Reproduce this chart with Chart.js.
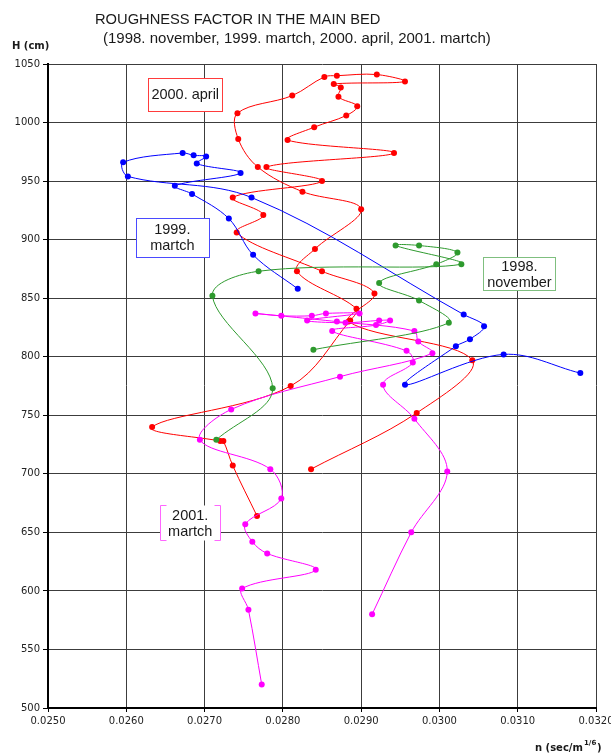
<!DOCTYPE html>
<html>
<head>
<meta charset="utf-8">
<script src="https://cdn.jsdelivr.net/npm/chart.js@4.4.1/dist/chart.umd.min.js"></script>
<style>
  html, body { margin: 0; padding: 0; background: #ffffff; }
  #wrap { width: 611px; height: 754px; }
</style>
</head>
<body>
<div id="wrap"><canvas id="chart" width="611" height="754"></canvas></div>
<script>
// Axis ticks
const xTicks = [0.0250, 0.0260, 0.0270, 0.0280, 0.0290, 0.0300, 0.0310, 0.0320];
const yTicks = [500, 550, 600, 650, 700, 750, 800, 850, 900, 950, 1000, 1050];

// Series labels
const seriesNames = ['1998. november', '1999. martch', '2000. april', '2001. martch'];

// 1998. november  (roughness n, water level H)
const nov98N = [0.02715, 0.02787, 0.02710, 0.02769, 0.03028, 0.02944, 0.02974, 0.03023, 0.02996, 0.02923, 0.02974, 0.03012, 0.02839];
const nov98H = [729, 773, 852, 873, 879, 895, 895, 889, 879, 863, 848, 829, 806];

// 1999. martch
const mar99N = [0.02819, 0.02762, 0.02731, 0.02684, 0.02662, 0.02746, 0.02690, 0.02702, 0.02686, 0.02672, 0.02596, 0.02602, 0.02760, 0.03031, 0.03057, 0.03039, 0.03021, 0.02956, 0.03082, 0.03180];
const mar99H = [858, 887, 918, 939, 946, 957, 965, 971, 972, 974, 966, 954, 936, 836, 826, 815, 809, 776, 802, 786];

// 2000. april
const apr00N = [0.02767, 0.02736, 0.02724, 0.02720, 0.02633, 0.02810, 0.02886, 0.02894, 0.02818, 0.02841, 0.02900, 0.02825, 0.02768, 0.02743, 0.02742, 0.02812, 0.02853, 0.02869, 0.02920, 0.02956, 0.02865, 0.02874, 0.02871, 0.02895, 0.02881, 0.02840, 0.02806, 0.02942, 0.02779, 0.02850, 0.02736, 0.02775, 0.02741, 0.02850, 0.02917, 0.02884, 0.03042, 0.02971, 0.02836];
const apr00H = [664, 707, 728, 728, 740, 775, 831, 841, 873, 892, 926, 941, 962, 986, 1008, 1023, 1039, 1040, 1041, 1035, 1033, 1030, 1022, 1014, 1006, 996, 985, 974, 962, 950, 936, 921, 906, 873, 854, 830, 797, 752, 704];

// 2001. martch
const mar01N = [0.02773, 0.02756, 0.02748, 0.02842, 0.02780, 0.02761, 0.02752, 0.02798, 0.02784, 0.02694, 0.02734, 0.02873, 0.02991, 0.02973, 0.02968, 0.02869, 0.02765, 0.02798, 0.02837, 0.02855, 0.02898, 0.02831, 0.02880, 0.02923, 0.02937, 0.02919, 0.02863, 0.02958, 0.02966, 0.02928, 0.02968, 0.03010, 0.02964, 0.02914];
const mar01H = [520, 584, 602, 618, 632, 642, 657, 679, 704, 729, 755, 783, 803, 813, 822, 830, 837, 835, 835, 837, 837, 831, 829, 831, 831, 827, 822, 805, 795, 776, 747, 702, 650, 580];

function pairUp(ns, hs) {
  return ns.map((n, i) => ({ x: n, y: hs[i] }));
}

function lineSet(label, ns, hs, color) {
  return {
    label: label,
    data: pairUp(ns, hs),
    showLine: true,
    borderColor: color,
    backgroundColor: color,
    borderWidth: 1,
    pointRadius: 3,
    pointHoverRadius: 3,
    pointBorderWidth: 0,
    tension: 0.35
  };
}

const FONT = '"Liberation Sans", Arial, sans-serif';
const AXFONT = '"DejaVu Sans", Verdana, sans-serif';

// Boxed series names placed in data units
const boxes = [
  { lines: ['2000. april'], n: 0.026753, h: 1024, w: 74, hgt: 33, color: '#ff3b3b', style: 'box' },
  { lines: ['1999.', 'martch'], n: 0.026588, h: 902, w: 73, hgt: 39, color: '#4a4aff', style: 'box' },
  { lines: ['1998.', 'november'], n: 0.031022, h: 871, w: 72, hgt: 33, color: '#7fbf7f', style: 'box' },
  { lines: ['2001.', 'martch'], n: 0.026817, h: 658, w: 60, hgt: 35, color: '#ff66ff', style: 'bracket' }
];

const decorations = {
  id: 'decorations',
  afterDraw(chart) {
    const ctx = chart.ctx;
    const xs = chart.scales.x, ys = chart.scales.y;
    ctx.save();
    // heading
    ctx.fillStyle = '#1a1a1a';
    ctx.textAlign = 'left';
    ctx.textBaseline = 'alphabetic';
    ctx.font = '14.7px ' + FONT;
    ctx.fillText('ROUGHNESS FACTOR IN THE MAIN BED', 95, 24);
    ctx.font = '15px ' + FONT;
    ctx.fillText('(1998. november, 1999. martch, 2000. april, 2001. martch)', 103, 43);
    // axis titles
    ctx.font = 'bold 10px ' + AXFONT;
    ctx.fillText('H (cm)', 12, 49);
    ctx.fillText('n (sec/m', 535, 751);
    ctx.font = 'bold 7px ' + AXFONT;
    ctx.fillText('1/6', 584, 745);
    ctx.font = 'bold 10px ' + AXFONT;
    ctx.fillText(')', 597, 751);

    // series name boxes
    boxes.forEach(b => {
      const cx = xs.getPixelForValue(b.n);
      const cy = ys.getPixelForValue(b.h);
      const l = Math.round(cx - b.w / 2) + 0.5, t = Math.round(cy - b.hgt / 2) + 0.5;
      ctx.fillStyle = '#ffffff';
      ctx.fillRect(l, t, b.w, b.hgt);
      ctx.strokeStyle = b.color;
      ctx.lineWidth = 1;
      if (b.style === 'box') {
        ctx.strokeRect(l, t, b.w, b.hgt);
      } else {
        const k = 6;
        ctx.beginPath();
        ctx.moveTo(l + k, t); ctx.lineTo(l, t); ctx.lineTo(l, t + b.hgt); ctx.lineTo(l + k, t + b.hgt);
        ctx.moveTo(l + b.w - k, t); ctx.lineTo(l + b.w, t); ctx.lineTo(l + b.w, t + b.hgt); ctx.lineTo(l + b.w - k, t + b.hgt);
        ctx.stroke();
      }
      ctx.fillStyle = '#1a1a1a';
      ctx.font = '14.5px ' + FONT;
      ctx.textAlign = 'center';
      ctx.textBaseline = 'middle';
      const lh = 16;
      const y0 = cy - (b.lines.length - 1) * lh / 2;
      b.lines.forEach((s, i) => ctx.fillText(s, cx, y0 + i * lh + 1));
    });
    ctx.restore();
  }
};

new Chart(document.getElementById('chart'), {
  type: 'scatter',
  data: {
    datasets: [
      lineSet(seriesNames[0], nov98N, nov98H, '#2e9a2e'),
      lineSet(seriesNames[1], mar99N, mar99H, '#0000ff'),
      lineSet(seriesNames[3], mar01N, mar01H, '#ff00ff'),
      lineSet(seriesNames[2], apr00N, apr00H, '#ff0000')
    ]
  },
  options: {
    responsive: false,
    animation: false,
    devicePixelRatio: 1,
    layout: { padding: { top: 64, right: 15, bottom: 16, left: 0 } },
    plugins: {
      legend: { display: false },
      tooltip: { enabled: false },
      title: { display: false }
    },
    scales: {
      x: {
        type: 'linear',
        min: xTicks[0],
        max: xTicks[xTicks.length - 1],
        afterBuildTicks: s => { s.ticks = xTicks.map(v => ({ value: v })); },
        afterFit: s => { s.height = 30; s.paddingLeft = 0; s.paddingRight = 0; },
        ticks: {
          callback: v => Number(v).toFixed(4),
          color: '#222222',
          font: { family: AXFONT, size: 10 },
          padding: 3,
          maxRotation: 0
        },
        grid: { color: '#3c3c3c', lineWidth: 1, tickLength: 4, tickColor: '#000000' },
        border: { display: true, color: '#000000', width: 2 }
      },
      y: {
        type: 'linear',
        min: yTicks[0],
        max: yTicks[yTicks.length - 1],
        afterBuildTicks: s => { s.ticks = yTicks.map(v => ({ value: v })); },
        afterFit: s => { s.width = 48; s.paddingTop = 0; s.paddingBottom = 0; },
        ticks: {
          callback: v => String(v),
          color: '#222222',
          font: { family: AXFONT, size: 10 },
          padding: 3
        },
        grid: { color: '#3c3c3c', lineWidth: 1, tickLength: 5, tickColor: '#000000' },
        border: { display: true, color: '#000000', width: 2 }
      }
    }
  },
  plugins: [decorations]
});
</script>
</body>
</html>
